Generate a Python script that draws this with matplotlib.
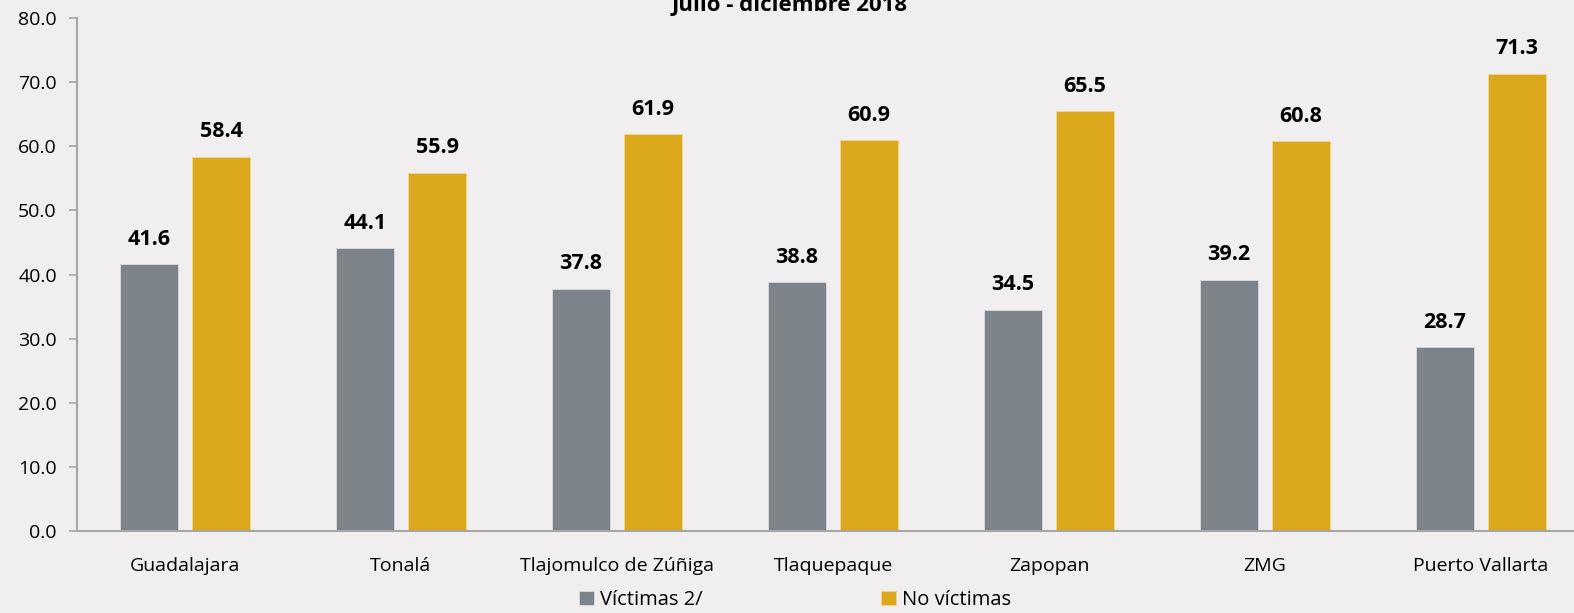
import numpy as np
import matplotlib
matplotlib.use("Agg")
import matplotlib.pyplot as plt

categorias = ["Guadalajara", "Tonalá", "Tlajomulco de Zúñiga", "Tlaquepaque",
              "Zapopan", "ZMG", "Puerto Vallarta"]
victimas = [41.6, 44.1, 37.8, 38.8, 34.5, 39.2, 28.7]
no_victimas = [58.4, 55.9, 61.9, 60.9, 65.5, 60.8, 71.3]

bg = "#F1EEEF"
gris = "#7C838A"
oro = "#DAA81A"

plt.rcParams['font.family'] = ['Open Sans', 'DejaVu Sans']

fig = plt.figure(figsize=(15.74, 6.13), dpi=100, facecolor=bg)
# axes placed in pixels: left 77, top 18, bottom 531
W, H = 1574., 613.
step = 216.
x0 = 77.
right_px = W
ax = fig.add_axes([x0 / W, (H - 531) / H, (right_px - x0) / W, (531 - 18) / H])
ax.set_facecolor(bg)

x = np.arange(len(categorias))
bw = 0.268
off = 0.167
b1 = ax.bar(x - off, victimas, bw, color=gris, edgecolor="#D9DCDF", linewidth=0.6,
            label="Víctimas 2/")
b2 = ax.bar(x + off, no_victimas, bw, color=oro, edgecolor="#F0D78E", linewidth=0.6,
            label="No víctimas")

for bars, vals in ((b1, victimas), (b2, no_victimas)):
    for r, v in zip(bars, vals):
        ax.annotate(f"{v:.1f}", (r.get_x() + r.get_width() / 2, v),
                    xytext=(0, 14), textcoords="offset points",
                    ha="center", va="baseline", fontsize=15.5, fontweight="bold")

ax.set_xlim(-0.5, -0.5 + (right_px - x0) / step)
ax.set_ylim(0, 80)
ax.set_yticks(np.arange(0, 81, 10))
ax.set_yticklabels([f"{t:.1f}" for t in np.arange(0, 81, 10)], fontsize=14)
ax.set_xticks(x)
ax.set_xticklabels(categorias, fontsize=14)
ax.tick_params(axis="x", length=0, pad=19)
ax.tick_params(axis="y", length=5.5, color="#A6A6A6", width=1.2, pad=9)
for s in ("top", "right"):
    ax.spines[s].set_visible(False)
for s in ("left", "bottom"):
    ax.spines[s].set_color("#A6A6A6")
    ax.spines[s].set_linewidth(1.5)

fig.text(790 / W, 1 - 5 / H, "Julio - diciembre 2018", ha="center", va="center",
         fontsize=16, fontweight="bold")

leg = fig.legend(handles=[b1, b2], loc="center", bbox_to_anchor=(795 / W, 1 - 600 / H),
                 ncol=2, frameon=False, fontsize=14.5, handlelength=0.75,
                 handleheight=0.75, handletextpad=0.25, columnspacing=8.9)

fig.savefig("out.png", dpi=100, facecolor=bg)
